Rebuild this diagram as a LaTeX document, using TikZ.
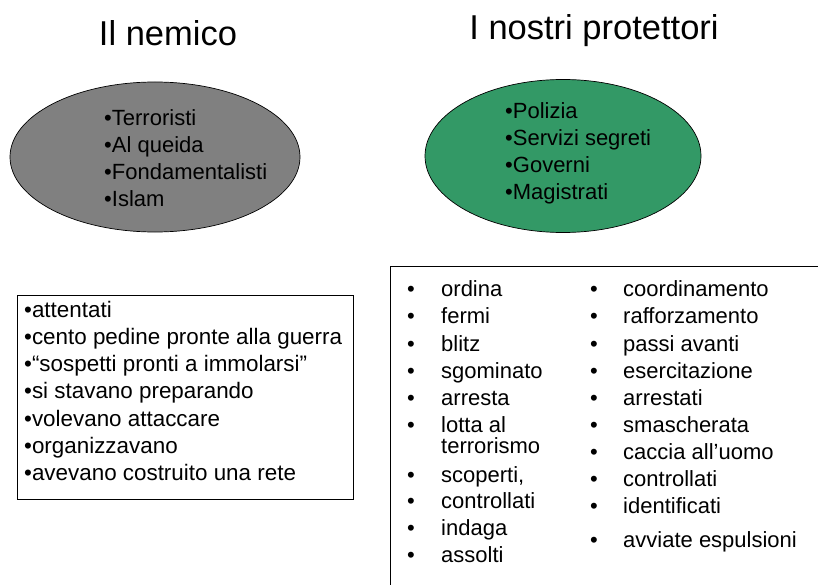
\documentclass[tikz,border=0pt]{standalone}
\usepackage{fontspec}
\setmainfont{Liberation Sans}
\usetikzlibrary{shapes.geometric}
\definecolor{enemygray}{RGB}{128,128,128}
\definecolor{protgreen}{RGB}{51,153,102}
\tikzset{
  title/.style={font=\fontsize{34.5}{40}\selectfont, inner sep=0pt},
  item/.style={font=\fontsize{22}{26}\selectfont, anchor=base west, inner sep=0pt},
  boxitem/.style={item, font=\fontsize{22.4}{26}\selectfont},
  blob/.style={ellipse, draw=black, line width=0.7pt, inner sep=0pt},
  listbox/.style={rectangle, draw=black, line width=1.1pt, anchor=north west, inner sep=0pt}
}
\begin{document}
\begin{tikzpicture}[x=1pt,y=-1pt]
\useasboundingbox (0,0) rectangle (818,585);
\clip (0,0) rectangle (818,585);
\fill[white] (0,0) rectangle (818,585);
% titles
\node[title] (t1) at (168,33) {Il nemico};
\node[title] (t2) at (594,31) {I nostri protettori};
% ellipses
\node[blob, fill=enemygray, minimum width=290pt, minimum height=150pt] (enemy) at (155,157) {};
\node[blob, fill=protgreen, minimum width=276pt, minimum height=153pt] (prot) at (563,156) {};
\foreach \t [count=\i] in {Terroristi, Al queida, Fondamentalisti, Islam}
  \node[item] (e\i) at (104,{99+27*\i}) {•\t};
\foreach \t [count=\i] in {Polizia, Servizi segreti, Governi, Magistrati}
  \node[item] (p\i) at (505,{92+27*\i}) {•\t};
% left box
\node[listbox, minimum width=336pt, minimum height=204pt] (lbox) at (17,295) {};
\foreach \t [count=\i] in {attentati, cento pedine pronte alla guerra, “sospetti pronti a immolarsi”, si stavano preparando, volevano attaccare, organizzavano, avevano costruito una rete}
  \node[boxitem] (a\i) at (24,{290+27.2*\i}) {•\t};
% right box
\node[listbox, minimum width=440pt, minimum height=340pt] (rbox) at (390,266) {};
\foreach \t/\y [count=\i] in {ordina/296, fermi/323, blitz/351, sgominato/378, arresta/405, lotta al/432, {scoperti,}/482, controllati/508, indaga/535, assolti/562}{
  \node[item] (b\i) at (407,\y) {•};
  \node[item] (c\i) at (441,\y) {\t};
}
\node[item] (c6b) at (441,453) {terrorismo};
\foreach \t/\y [count=\i] in {coordinamento/296, rafforzamento/323, passi avanti/351, esercitazione/378, arrestati/405, smascherata/432, caccia all’uomo/459, controllati/486, identificati/513, avviate espulsioni/547}{
  \node[item] (d\i) at (590,\y) {•};
  \node[item] (f\i) at (623,\y) {\t};
}
\end{tikzpicture}
\end{document}
